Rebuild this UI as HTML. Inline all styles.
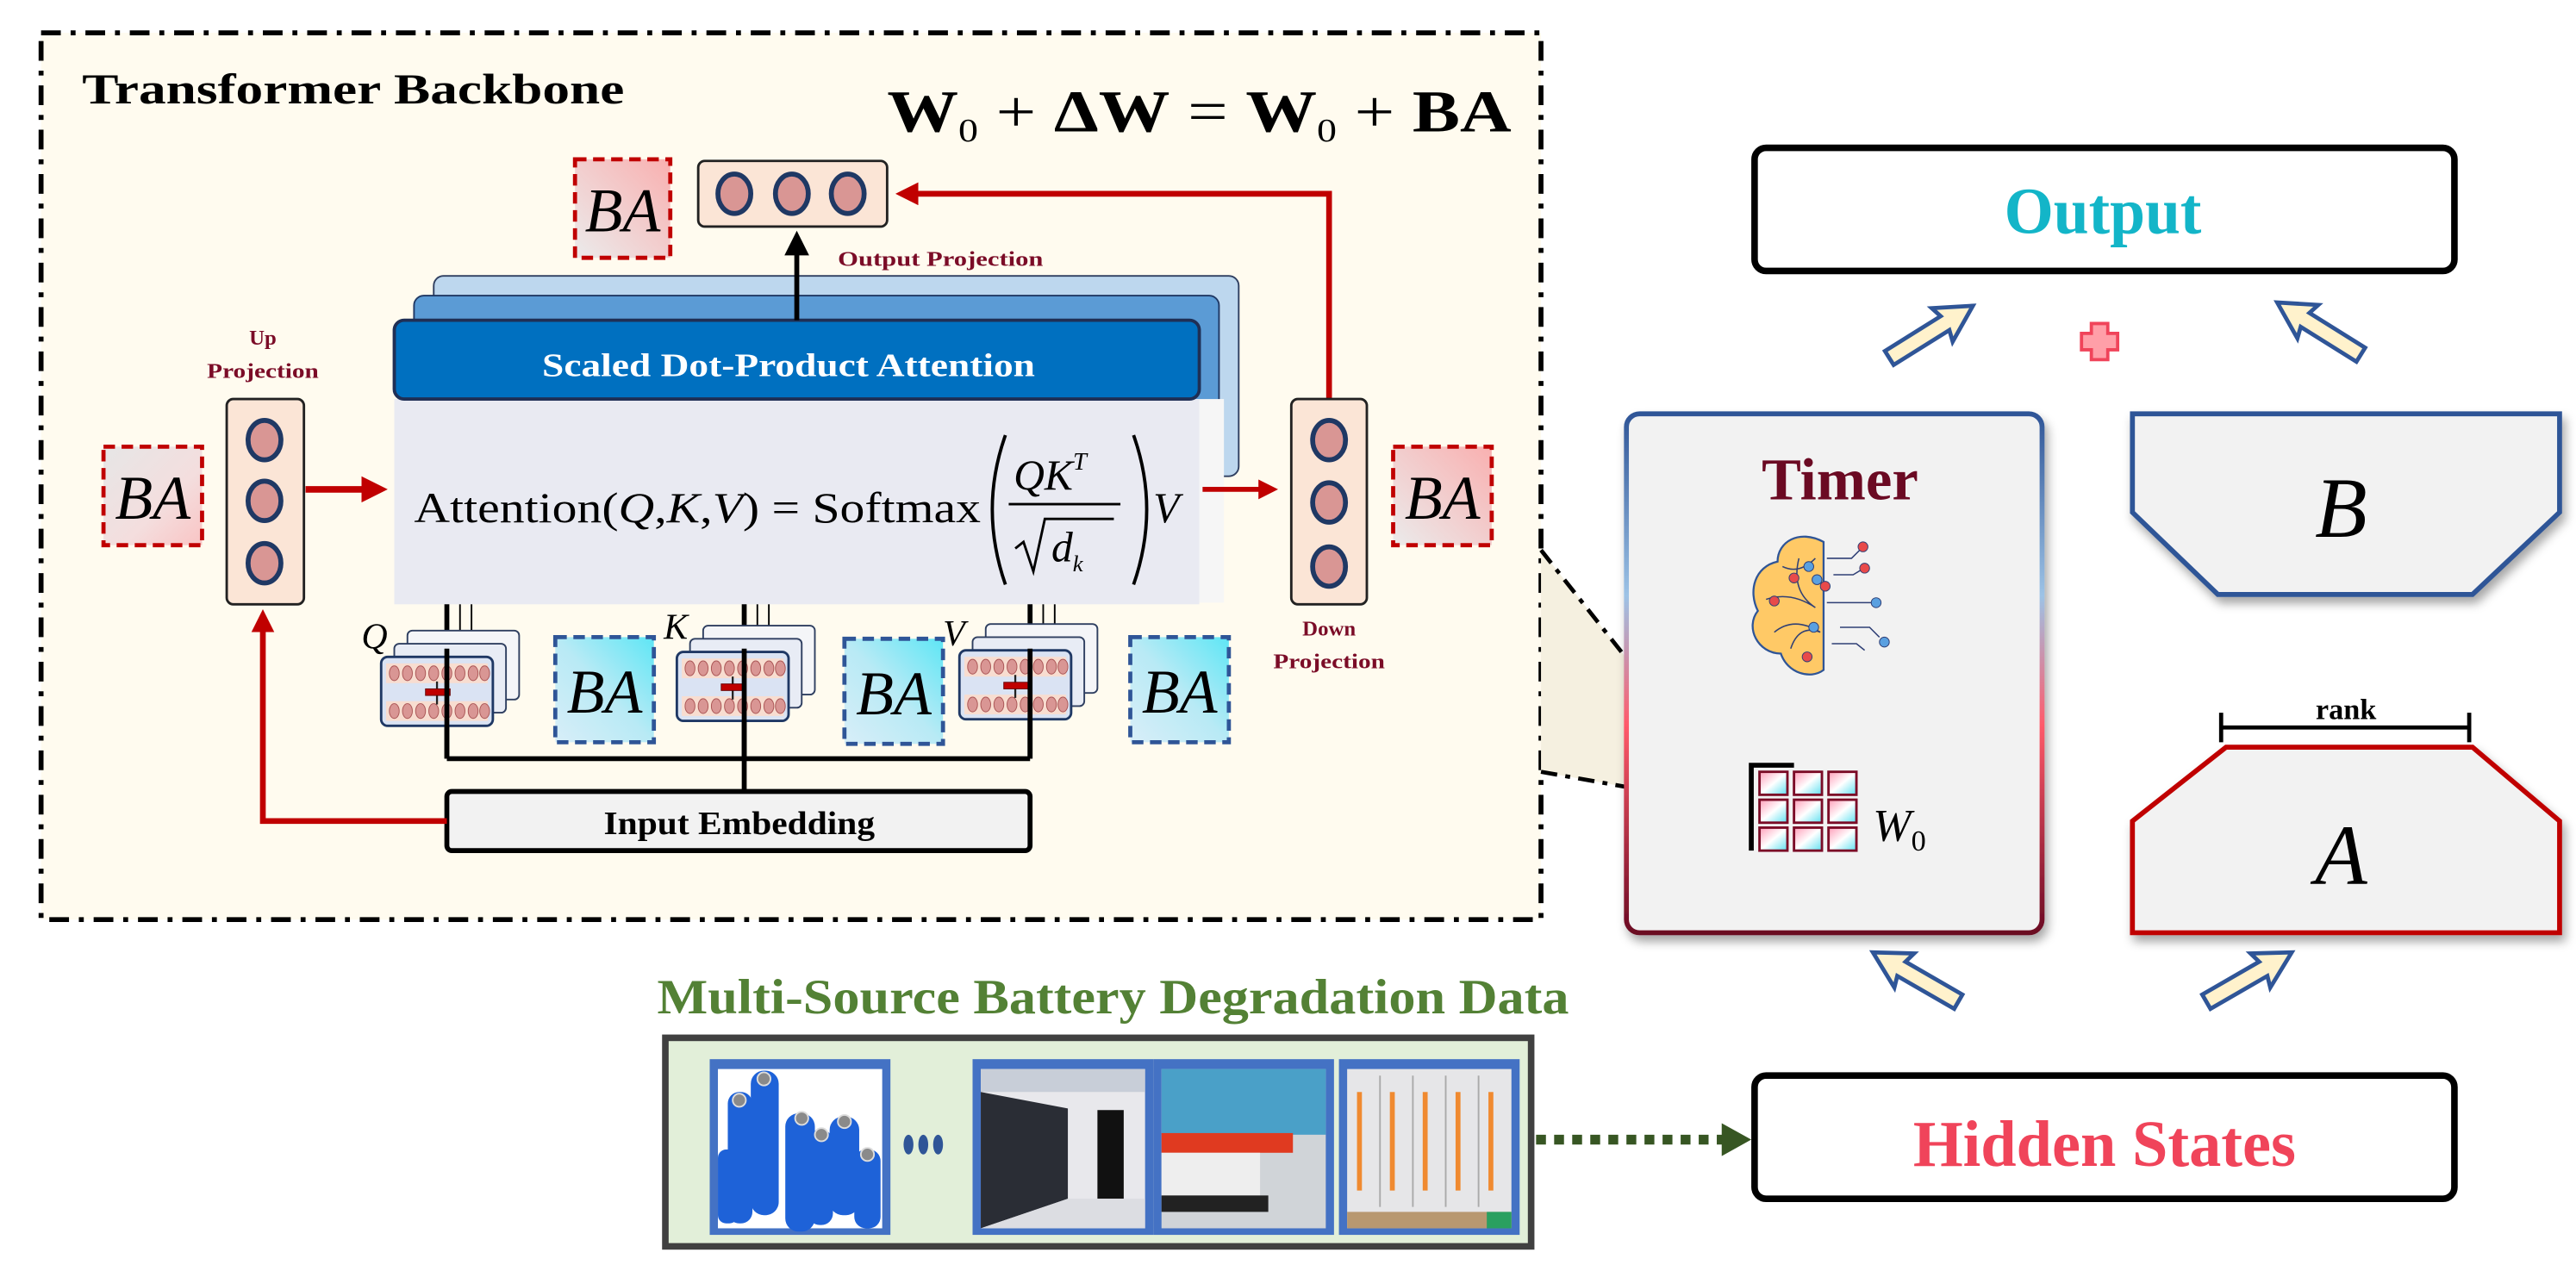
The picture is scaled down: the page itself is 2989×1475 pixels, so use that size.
<!DOCTYPE html>
<html><head><meta charset="utf-8"><style>
html,body{margin:0;padding:0;background:#fff;}
svg{display:block;}
text{font-family:"Liberation Serif",serif;}
</style></head><body>
<svg width="2989" height="1475" viewBox="0 0 1568 774" preserveAspectRatio="none" xmlns="http://www.w3.org/2000/svg">
<defs>
<linearGradient id="rba" x1="0" y1="0" x2="1" y2="1"><stop offset="0" stop-color="#e6e6e6"/><stop offset="0.6" stop-color="#f4dede"/><stop offset="1" stop-color="#f9c4c4"/></linearGradient>
<linearGradient id="rba2" x1="1" y1="0" x2="0" y2="1"><stop offset="0" stop-color="#f9b0b0"/><stop offset="1" stop-color="#ebebeb"/></linearGradient>
<linearGradient id="bba" x1="1" y1="0" x2="0" y2="1"><stop offset="0" stop-color="#5ee6f5"/><stop offset="0.5" stop-color="#b8eaf5"/><stop offset="1" stop-color="#d8eef8"/></linearGradient>
<linearGradient id="tb" x1="0" y1="0" x2="0" y2="1"><stop offset="0" stop-color="#2f5597"/><stop offset="0.35" stop-color="#9dc3e6"/><stop offset="0.6" stop-color="#ff5a6a"/><stop offset="1" stop-color="#6b0a23"/></linearGradient>
<linearGradient id="cell" x1="0" y1="0" x2="1" y2="1"><stop offset="0" stop-color="#ff9db8"/><stop offset="0.5" stop-color="#ffffff"/><stop offset="1" stop-color="#5fe0f0"/></linearGradient>
<marker id="ar" viewBox="0 0 10 10" refX="5" refY="5" markerWidth="4" markerHeight="4" orient="auto"><path d="M0,0L10,5L0,10z" fill="#c00000"/></marker>
<marker id="ak" viewBox="0 0 10 10" refX="5" refY="5" markerWidth="5" markerHeight="5" orient="auto"><path d="M0,0L10,5L0,10z" fill="#000"/></marker>
<filter id="sh" x="-10%" y="-10%" width="130%" height="130%"><feDropShadow dx="2" dy="4" stdDeviation="3" flood-opacity="0.35"/></filter>
<g id="qkv">
 <rect x="16" y="-16" width="68" height="42" rx="3" fill="#f4f5f8" stroke="#2f3f60" stroke-width="1"/>
 <rect x="8" y="-8" width="68" height="42" rx="3" fill="#e8ecf5" stroke="#2f3f60" stroke-width="1"/>
 <rect x="0" y="0" width="68" height="42" rx="4" fill="#dae3f3" stroke="#1f3864" stroke-width="1.5"/>
 <rect x="3" y="4" width="62" height="12" fill="#f8ddd0"/>
 <rect x="3" y="27" width="62" height="12" fill="#f8ddd0"/>
 <g fill="#d99694" stroke="#a55" stroke-width="0.5">
 <ellipse cx="8" cy="10" rx="3" ry="4.5"/><ellipse cx="16" cy="10" rx="3" ry="4.5"/><ellipse cx="24" cy="10" rx="3" ry="4.5"/><ellipse cx="32" cy="10" rx="3" ry="4.5"/><ellipse cx="40" cy="10" rx="3" ry="4.5"/><ellipse cx="48" cy="10" rx="3" ry="4.5"/><ellipse cx="56" cy="10" rx="3" ry="4.5"/><ellipse cx="63" cy="10" rx="3" ry="4.5"/>
 <ellipse cx="8" cy="33" rx="3" ry="4.5"/><ellipse cx="16" cy="33" rx="3" ry="4.5"/><ellipse cx="24" cy="33" rx="3" ry="4.5"/><ellipse cx="32" cy="33" rx="3" ry="4.5"/><ellipse cx="40" cy="33" rx="3" ry="4.5"/><ellipse cx="48" cy="33" rx="3" ry="4.5"/><ellipse cx="56" cy="33" rx="3" ry="4.5"/><ellipse cx="63" cy="33" rx="3" ry="4.5"/>
 </g>
 <line x1="34" y1="15" x2="34" y2="29" stroke="#222" stroke-width="1.2"/>
 <rect x="27" y="19.5" width="15" height="4" fill="#c00000" stroke="#600" stroke-width="0.5"/>
</g>
</defs>

<!-- Transformer backbone panel -->
<rect x="25" y="20" width="913" height="540" fill="#fffbef" stroke="#000" stroke-width="3" stroke-dasharray="12,6,3,6"/>
<text x="50" y="63" font-size="26" font-weight="bold" textLength="330" lengthAdjust="spacingAndGlyphs">Transformer Backbone</text>
<text x="540" y="80" font-size="36" font-weight="bold" textLength="380" lengthAdjust="spacingAndGlyphs">W<tspan font-size="20" font-weight="normal" dy="6">0</tspan><tspan dy="-6" font-weight="normal"> + </tspan>ΔW<tspan font-weight="normal"> = </tspan>W<tspan font-size="20" font-weight="normal" dy="6">0</tspan><tspan dy="-6" font-weight="normal"> + </tspan>BA</text>

<!-- attention stack -->
<rect x="264" y="168" width="490" height="122" rx="6" fill="#bdd7ee" stroke="#2f3f60" stroke-width="1"/>
<rect x="252" y="180" width="490" height="112" rx="6" fill="#5b9bd5" stroke="#1f3864" stroke-width="1"/>
<rect x="250" y="243" width="495" height="124" fill="#f6f6f6"/>
<rect x="240" y="243" width="490" height="125" fill="#e9eaf2"/>
<rect x="240" y="195" width="490" height="48" rx="6" fill="#0070c0" stroke="#1f2f55" stroke-width="2"/>
<text x="480" y="229" font-size="20" font-weight="bold" fill="#fff" text-anchor="middle" textLength="300" lengthAdjust="spacingAndGlyphs">Scaled Dot-Product Attention</text>
<text x="252" y="318" font-size="26" textLength="345" lengthAdjust="spacingAndGlyphs">Attention(<tspan font-style="italic">Q</tspan>,<tspan font-style="italic">K</tspan>,<tspan font-style="italic">V</tspan>) = Softmax</text>
<path d="M612,265 Q596,310 612,356" fill="none" stroke="#000" stroke-width="2"/>
<path d="M690,265 Q706,310 690,356" fill="none" stroke="#000" stroke-width="2"/>
<text x="617" y="298" font-size="26" font-style="italic">QK<tspan font-size="15" dy="-12">T</tspan></text>
<line x1="614" y1="307" x2="682" y2="307" stroke="#000" stroke-width="1.5"/>
<path d="M618,334 l5,-4 l6,18 l7,-32 h42" fill="none" stroke="#000" stroke-width="1.5"/>
<text x="640" y="342" font-size="26" font-style="italic">d<tspan font-size="14" dy="6">k</tspan></text>
<text x="702" y="318" font-size="26" font-style="italic">V</text>

<!-- output projection -->
<rect x="350" y="97" width="58" height="60" fill="url(#rba2)" stroke="#c00000" stroke-width="2.5" stroke-dasharray="7,4"/>
<text x="379" y="141" font-size="38" font-style="italic" text-anchor="middle" textLength="46" lengthAdjust="spacingAndGlyphs">BA</text>
<rect x="425" y="98" width="115" height="40" rx="4" fill="#fbe5d6" stroke="#222" stroke-width="1.5"/>
<g fill="#d99694" stroke="#1f3864" stroke-width="3"><ellipse cx="447" cy="118" rx="10" ry="12"/><ellipse cx="482" cy="118" rx="10" ry="12"/><ellipse cx="516" cy="118" rx="10" ry="12"/></g>
<line x1="485" y1="195" x2="485" y2="148" stroke="#000" stroke-width="3" marker-end="url(#ak)"/>
<text x="510" y="162" font-size="13" fill="#7b0c27" font-weight="bold" textLength="125" lengthAdjust="spacingAndGlyphs">Output Projection</text>
<polyline points="809,243 809,118 552,118" fill="none" stroke="#c00000" stroke-width="3.5" marker-end="url(#ar)"/>

<!-- up projection -->
<rect x="63" y="272" width="60" height="60" fill="url(#rba)" stroke="#c00000" stroke-width="2.5" stroke-dasharray="7,4"/>
<text x="93" y="316" font-size="38" font-style="italic" text-anchor="middle" textLength="46" lengthAdjust="spacingAndGlyphs">BA</text>
<text x="160" y="210" font-size="13" font-weight="bold" fill="#7b0c27" text-anchor="middle">Up</text>
<text x="160" y="230" font-size="13" font-weight="bold" fill="#7b0c27" text-anchor="middle" textLength="68" lengthAdjust="spacingAndGlyphs">Projection</text>
<rect x="138" y="243" width="47" height="125" rx="4" fill="#fbe5d6" stroke="#222" stroke-width="1.5"/>
<g fill="#d99694" stroke="#1f3864" stroke-width="3"><ellipse cx="161" cy="268" rx="10" ry="12"/><ellipse cx="161" cy="305" rx="10" ry="12"/><ellipse cx="161" cy="343" rx="10" ry="12"/></g>
<line x1="186" y1="298" x2="228" y2="298" stroke="#c00000" stroke-width="4" marker-end="url(#ar)"/>

<!-- down projection -->
<line x1="732" y1="298" x2="772" y2="298" stroke="#c00000" stroke-width="3" marker-end="url(#ar)"/>
<rect x="786" y="243" width="46" height="125" rx="4" fill="#fbe5d6" stroke="#222" stroke-width="1.5"/>
<g fill="#d99694" stroke="#1f3864" stroke-width="3"><ellipse cx="809" cy="268" rx="10" ry="12"/><ellipse cx="809" cy="306" rx="10" ry="12"/><ellipse cx="809" cy="345" rx="10" ry="12"/></g>
<text x="809" y="387" font-size="13" font-weight="bold" fill="#7b0c27" text-anchor="middle">Down</text>
<text x="809" y="407" font-size="13" font-weight="bold" fill="#7b0c27" text-anchor="middle" textLength="68" lengthAdjust="spacingAndGlyphs">Projection</text>
<rect x="848" y="272" width="60" height="60" fill="url(#rba2)" stroke="#c00000" stroke-width="2.5" stroke-dasharray="7,4"/>
<text x="878" y="316" font-size="38" font-style="italic" text-anchor="middle" textLength="46" lengthAdjust="spacingAndGlyphs">BA</text>

<!-- QKV -->
<g stroke="#000">
<line x1="272" y1="368" x2="272" y2="462" stroke-width="3"/><line x1="280" y1="368" x2="280" y2="395" stroke-width="1"/><line x1="287" y1="368" x2="287" y2="390" stroke-width="1"/>
<line x1="453" y1="368" x2="453" y2="482" stroke-width="3"/><line x1="461" y1="368" x2="461" y2="395" stroke-width="1"/><line x1="468" y1="368" x2="468" y2="388" stroke-width="1"/>
<line x1="627" y1="368" x2="627" y2="462" stroke-width="3"/><line x1="635" y1="368" x2="635" y2="392" stroke-width="1"/><line x1="642" y1="368" x2="642" y2="388" stroke-width="1"/>
<polyline points="272,462 627,462" fill="none" stroke-width="3"/>
</g>
<use href="#qkv" x="232" y="400"/>
<use href="#qkv" x="412" y="397"/>
<use href="#qkv" x="584" y="396"/>
<line x1="272" y1="395" x2="272" y2="462" stroke="#000" stroke-width="3"/>
<line x1="453" y1="395" x2="453" y2="462" stroke="#000" stroke-width="3"/>
<line x1="627" y1="395" x2="627" y2="462" stroke="#000" stroke-width="3"/>
<g font-size="22" font-style="italic"><text x="220" y="395">Q</text><text x="404" y="389">K</text><text x="574" y="393">V</text></g>
<g stroke="#2f5597" stroke-width="2.5" stroke-dasharray="7,4">
<rect x="338" y="388" width="60" height="64" fill="url(#bba)"/>
<rect x="514" y="389" width="60" height="64" fill="url(#bba)"/>
<rect x="688" y="388" width="60" height="64" fill="url(#bba)"/>
</g>
<g font-size="38" font-style="italic" text-anchor="middle"><text x="368" y="434" textLength="46" lengthAdjust="spacingAndGlyphs">BA</text><text x="544" y="435" textLength="46" lengthAdjust="spacingAndGlyphs">BA</text><text x="718" y="434" textLength="46" lengthAdjust="spacingAndGlyphs">BA</text></g>

<!-- input embedding -->
<rect x="272" y="482" width="355" height="36" rx="3" fill="#f2f2f2" stroke="#000" stroke-width="3"/>
<text x="450" y="508" font-size="20" font-weight="bold" text-anchor="middle" textLength="165" lengthAdjust="spacingAndGlyphs">Input Embedding</text>
<polyline points="272,500 160,500 160,378" fill="none" stroke="#c00000" stroke-width="3.5" marker-end="url(#ar)"/>

<!-- zoom triangle -->
<polygon points="938,335 1062,492 938,470" fill="#f5f0e0"/>
<line x1="938" y1="335" x2="1062" y2="492" stroke="#000" stroke-width="2.5" stroke-dasharray="10,5,3,5"/>
<line x1="938" y1="470" x2="1062" y2="492" stroke="#000" stroke-width="2.5" stroke-dasharray="10,5,3,5"/>

<!-- Output box -->
<rect x="1068" y="90" width="426" height="75" rx="7" fill="#fff" stroke="#000" stroke-width="4"/>
<text x="1280" y="142" font-size="40" font-weight="bold" fill="#13b5c8" text-anchor="middle" textLength="120" lengthAdjust="spacingAndGlyphs">Output</text>
<path d="M1273,197 h10 v6 h6 v10 h-6 v6 h-10 v-6 h-6 v-10 h6 z" fill="#ff9fa8" stroke="#f0445a" stroke-width="2"/>

<!-- block arrows -->
<g fill="#fff2cc" stroke="#2f5597" stroke-width="2.5">
<path d="M0,-5 L40,-5 L38,-12 L60,0 L38,12 L40,5 L0,5 Z" transform="translate(1150,218) rotate(-32)"/>
<path d="M0,-5 L40,-5 L38,-12 L60,0 L38,12 L40,5 L0,5 Z" transform="translate(1437,216) rotate(-148)"/>
<path d="M0,-5 L40,-5 L38,-12 L60,0 L38,12 L40,5 L0,5 Z" transform="translate(1192,610) rotate(-150)"/>
<path d="M0,-5 L40,-5 L38,-12 L60,0 L38,12 L40,5 L0,5 Z" transform="translate(1343,610) rotate(-30)"/>
</g>

<!-- Timer box -->
<rect x="990" y="252" width="253" height="316" rx="8" fill="#f2f2f2" stroke="url(#tb)" stroke-width="3" filter="url(#sh)"/>
<text x="1120" y="304" font-size="36" font-weight="bold" fill="#6b0a23" text-anchor="middle">Timer</text>
<!-- brain -->
<path d="M1110,330 C1095,322 1082,330 1082,342 C1068,345 1064,360 1070,372 C1062,382 1070,398 1084,398 C1088,410 1102,414 1110,408 Z" fill="#ffc966" stroke="#2f5597" stroke-width="1.2"/>
<g fill="none" stroke="#2f3f75" stroke-width="0.8">
<path d="M1085,345 q10,5 20,-5 M1075,365 q15,-5 30,5 M1080,385 q12,-10 28,0 M1095,340 q-5,20 10,30 M1090,395 q5,-15 18,-10"/>
<path d="M1112,340 h15 l6,-6 M1116,350 h12 l5,-3 M1112,367 h28 M1120,382 h18 l6,6 M1115,392 h15 l5,4"/>
</g>
<g stroke="#2f3f75" stroke-width="0.5"><circle cx="1134" cy="333" r="3" fill="#e84a4a"/><circle cx="1135" cy="346" r="3" fill="#e84a4a"/><circle cx="1142" cy="367" r="3" fill="#5aa0e0"/><circle cx="1147" cy="391" r="3" fill="#5aa0e0"/>
<circle cx="1092" cy="352" r="3" fill="#e84a4a"/><circle cx="1101" cy="345" r="3" fill="#5aa0e0"/><circle cx="1111" cy="357" r="3" fill="#e84a4a"/><circle cx="1080" cy="366" r="3" fill="#e84a4a"/><circle cx="1104" cy="382" r="3" fill="#5aa0e0"/><circle cx="1100" cy="400" r="3" fill="#e84a4a"/><circle cx="1106" cy="353" r="3" fill="#5aa0e0"/></g>
<!-- W0 grid -->
<path d="M1066,518 V466 H1092" fill="none" stroke="#000" stroke-width="3"/>
<g fill="url(#cell)" stroke="#7b0c27" stroke-width="1.5">
<rect x="1071" y="470" width="17" height="14"/><rect x="1092" y="470" width="17" height="14"/><rect x="1113" y="470" width="17" height="14"/>
<rect x="1071" y="487" width="17" height="14"/><rect x="1092" y="487" width="17" height="14"/><rect x="1113" y="487" width="17" height="14"/>
<rect x="1071" y="504" width="17" height="14"/><rect x="1092" y="504" width="17" height="14"/><rect x="1113" y="504" width="17" height="14"/>
</g>
<text x="1140" y="512" font-size="28" font-style="italic">W<tspan font-size="18" font-style="normal" dy="6">0</tspan></text>

<!-- B -->
<polygon points="1298,252 1558,252 1558,312 1505,362 1350,362 1298,312" fill="#f2f2f2" stroke="#2f5597" stroke-width="3" filter="url(#sh)"/>
<text x="1425" y="327" font-size="52" font-style="italic" text-anchor="middle">B</text>
<!-- A -->
<text x="1428" y="438" font-size="18" font-weight="bold" text-anchor="middle">rank</text>
<path d="M1352,434 V452 M1352,443 H1503 M1503,434 V452" fill="none" stroke="#000" stroke-width="2.5"/>
<polygon points="1355,455 1505,455 1558,500 1558,568 1298,568 1298,500" fill="#f2f2f2" stroke="#c00000" stroke-width="3" filter="url(#sh)"/>
<text x="1425" y="538" font-size="52" font-style="italic" text-anchor="middle">A</text>

<!-- Hidden states -->
<rect x="1068" y="655" width="426" height="75" rx="7" fill="#fff" stroke="#000" stroke-width="4"/>
<text x="1281" y="710" font-size="40" font-weight="bold" fill="#f0445a" text-anchor="middle" textLength="233" lengthAdjust="spacingAndGlyphs">Hidden States</text>
<line x1="935" y1="694" x2="1050" y2="694" stroke="#375623" stroke-width="6" stroke-dasharray="6,5"/>
<path d="M1048,684 L1066,694 L1048,704 Z" fill="#375623"/>

<!-- data -->
<text x="400" y="617" font-size="30" font-weight="bold" fill="#538135" textLength="555" lengthAdjust="spacingAndGlyphs">Multi-Source Battery Degradation Data</text>
<rect x="405" y="632" width="527" height="127" fill="#e2efd9" stroke="#404040" stroke-width="4"/>
<g fill="#4472c4"><rect x="432" y="645" width="110" height="107"/><rect x="592" y="645" width="110" height="107"/><rect x="702" y="645" width="110" height="107"/><rect x="815" y="645" width="110" height="107"/></g>
<!-- img1 -->
<rect x="437" y="651" width="100" height="97" fill="#fff"/>
<g fill="#1e62d8"><rect x="443" y="665" width="15" height="80" rx="7"/><rect x="457" y="652" width="17" height="88" rx="8"/><rect x="478" y="678" width="18" height="72" rx="8"/><rect x="492" y="688" width="15" height="58" rx="7"/><rect x="505" y="680" width="18" height="60" rx="8"/><rect x="520" y="700" width="16" height="48" rx="7"/><rect x="437" y="700" width="12" height="45" rx="5"/></g>
<g fill="#8a8a8a" stroke="#ddd"><circle cx="450" cy="670" r="4"/><circle cx="465" cy="657" r="4"/><circle cx="488" cy="681" r="4"/><circle cx="500" cy="691" r="4"/><circle cx="514" cy="683" r="4"/><circle cx="528" cy="703" r="4"/></g>
<g fill="#2f5597"><ellipse cx="553" cy="697" rx="3" ry="6"/><ellipse cx="562" cy="697" rx="3" ry="6"/><ellipse cx="571" cy="697" rx="3" ry="6"/></g>
<!-- img2 server -->
<rect x="597" y="651" width="100" height="97" fill="#e8e8ec"/>
<polygon points="597,651 697,651 697,665 597,665" fill="#c8ced8"/>
<polygon points="597,665 650,675 650,730 597,748" fill="#2a2d35"/>
<rect x="668" y="676" width="16" height="54" fill="#111"/>
<polygon points="597,748 650,730 697,730 697,748" fill="#dcdde2"/>
<!-- img3 EV -->
<rect x="707" y="651" width="100" height="97" fill="#d0d4d8"/>
<rect x="707" y="651" width="100" height="40" fill="#4aa0c8"/>
<rect x="707" y="690" width="80" height="12" fill="#e03a20"/>
<rect x="707" y="702" width="60" height="26" fill="#eeeeee"/>
<rect x="707" y="728" width="65" height="10" fill="#222"/>
<!-- img4 cabinets -->
<rect x="820" y="651" width="100" height="97" fill="#e6e6e8"/>
<g fill="#f08a30"><rect x="826" y="665" width="3" height="60"/><rect x="846" y="665" width="3" height="60"/><rect x="866" y="665" width="3" height="60"/><rect x="886" y="665" width="3" height="60"/><rect x="906" y="665" width="3" height="60"/></g>
<g stroke="#aaa" stroke-width="1"><line x1="840" y1="655" x2="840" y2="735"/><line x1="860" y1="655" x2="860" y2="735"/><line x1="880" y1="655" x2="880" y2="735"/><line x1="900" y1="655" x2="900" y2="735"/></g>
<rect x="820" y="738" width="100" height="10" fill="#b89870"/>
<rect x="905" y="738" width="15" height="10" fill="#2aa060"/>
</svg>
</body></html>
